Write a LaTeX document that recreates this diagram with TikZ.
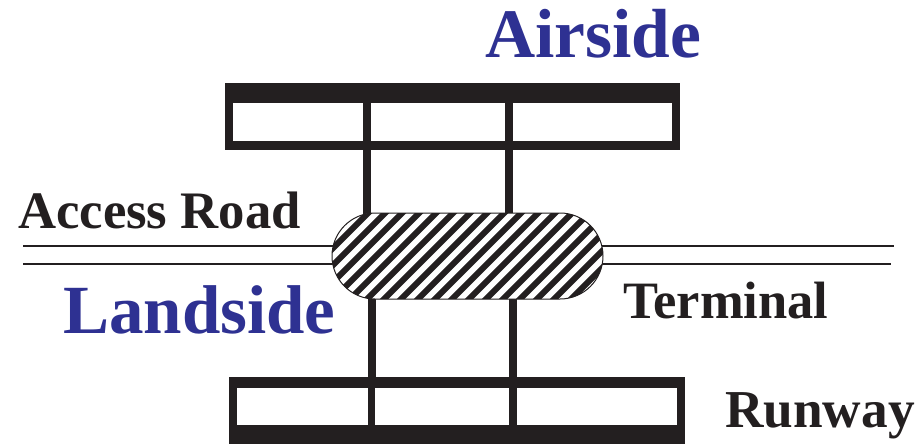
\documentclass[tikz,border=0pt]{standalone}
\usepackage{fontspec}
\setmainfont{Liberation Serif}
\definecolor{sideblue}{RGB}{46,49,146}
\definecolor{ink}{RGB}{35,31,32}
\begin{document}
\begin{tikzpicture}[x=1pt,y=-1pt,
  bar/.style={fill=ink},
  cell/.style={fill=white},
  road/.style={draw=ink,line width=1.1pt},
  post/.style={draw=ink,line width=8pt},
  stripe/.style={draw=ink,line width=6pt},
  bigblue/.style={font=\fontsize{69.5}{69.5}\selectfont\bfseries,text=sideblue,inner sep=0pt,anchor=base west},
  label/.style={font=\fontsize{53}{53}\selectfont\bfseries,text=ink,inner sep=0pt,anchor=base west}]
\useasboundingbox (0,0) rectangle (917,444);
% road lines
\coordinate (rl1) at (23,246);
\coordinate (rl2) at (23,264);
\coordinate (rr1) at (894,246);
\coordinate (rr2) at (891,264);
\draw[road] (rl1) -- (rr1);
\draw[road] (rl2) -- (rr2);
% upper posts
\draw[post] (367,150) -- (367,220);
\draw[post] (509,150) -- (509,220);
% lower posts
\draw[post] (371.5,292) -- (371.5,378);
\draw[post] (513,292) -- (513,378);
% airside structure
\fill[bar] (225,83) rectangle (680,150);
\fill[cell] (233,103) rectangle (363,141);
\fill[cell] (371,103) rectangle (505,141);
\fill[cell] (513,103) rectangle (672,141);
% runway structure
\fill[bar] (229,377) rectangle (685,444);
\fill[cell] (237,388) rectangle (368,425);
\fill[cell] (375,388) rectangle (509,425);
\fill[cell] (517,388) rectangle (677,425);
% terminal
\fill[white] (332,213) [rounded corners=43pt] rectangle (603,299);
\begin{scope}
  \clip[rounded corners=43pt] (332,213) rectangle (603,299);
  \foreach \i in {0,...,24} {
    \draw[stripe] ({225+17*\i},305) -- ({225+17*\i+100},205);
  }
\end{scope}
\draw[draw=ink,line width=1pt,rounded corners=43pt] (332,213) rectangle (603,299);
% texts
\node[bigblue] (airside) at (485,58) {Airside};
\node[bigblue,font=\fontsize{69}{69}\selectfont\bfseries] (landside) at (63,333) {Landside};
\node[label,font=\fontsize{52.7}{52.7}\selectfont\bfseries] (access) at (18,228) {Access Road};
\node[label,font=\fontsize{52.5}{52.5}\selectfont\bfseries] (terminal) at (623,318) {Terminal};
\node[label,font=\fontsize{53.3}{53.3}\selectfont\bfseries] (runway) at (725,427) {Runway};
\end{tikzpicture}
\end{document}
